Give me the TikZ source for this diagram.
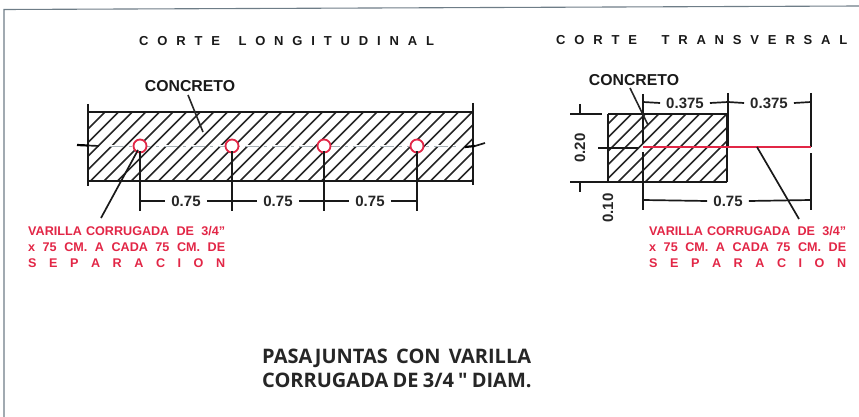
\documentclass[tikz,border=0pt]{standalone}
\usepackage{fontspec}
\setmainfont{Liberation Sans}
\newfontfamily\titlefont{Open Sans}
\definecolor{rojo}{RGB}{226,38,70}
\definecolor{marco}{RGB}{110,125,135}
\tikzset{
  obra/.style={line width=1.7pt,black!90},
  fino/.style={line width=1.6pt,black!85},
  cota/.style={font=\bfseries\fontsize{15}{15}\selectfont,inner sep=0pt,black!85},
  corte/.style={font=\bfseries\fontsize{13}{13}\selectfont\addfontfeature{LetterSpace=68},inner sep=0pt,black!90},
  etiqueta/.style={font=\bfseries\fontsize{15.8}{15.8}\selectfont,inner sep=0pt,black!90},
  nota/.style={font=\bfseries\fontsize{12.6}{16}\selectfont,text=rojo,inner sep=0pt,anchor=base west,text width=197pt},
  varilla/.style={circle,draw=rojo,line width=1.8pt,fill=white,minimum size=13pt,inner sep=0pt},
  leyenda/.style={font=\titlefont\bfseries\fontsize{20}{24}\selectfont,anchor=base west,inner sep=0pt,black!85},
}
\begin{document}
\begin{tikzpicture}[x=1pt,y=-1pt]
\useasboundingbox (0,0) rectangle (859,417);
% The frame
\draw[marco,line width=1.1pt] (4,417) -- (4,9.5) -- (859,6);
% The titles
\node[corte,anchor=west] (tlong) at (139,41) {CORTE\hspace{6pt} LONGITUDINAL};
\node[corte,anchor=west] (ttrans) at (556,40) {CORTE\hspace{12pt} TRANSVERSAL};
% Hatching of both sections
\begin{scope}
\clip (88,112) rectangle (472,181);
\foreach \coo in {0,1,...,33}
  \draw[fino] (36+13.6*\coo,181) -- ++(69,-69);
\end{scope}
\begin{scope}
\clip (608,114) rectangle (727,182);
\foreach \coo in {0,1,...,13}
  \draw[fino] (550+13.6*\coo,182) -- ++(68,-68);
\end{scope}
% Longitudinal section
\draw[obra] (88,112) -- (472,112) (88,181) -- (472,181);
\draw[obra] (88,104) -- (88,186) (473,103) -- (473,185);
\draw[line width=2.2pt] (77,145) -- (88,145.5);
\draw[obra] (88,145.5) -- (99,146);
\draw[line width=2.2pt] (465,147) -- (475,146);
\draw[obra] (475,146) -- (485,143);
\draw[white,line width=1.6pt,dash pattern=on 14pt off 5pt on 3pt off 5pt] (110,146) -- (460,146);
\draw[marco!60,line width=0.7pt,dash pattern=on 14pt off 5pt on 3pt off 5pt] (110,146) -- (460,146);
\node[etiqueta] (conc1) at (190,86) {CONCRETO};
\draw[fino] (188,95) -- (203,132);
% Bars with their dimension lines
\foreach \nom/\xx in {a/140,b/232,c/324,d/417}
{
  \node[varilla] (var\nom) at (\xx,146) {};
  \draw[obra] (\xx,151) -- (\xx,211);
}
\foreach \nom/\xx in {a/186,b/278,c/370}
{
  \node[cota] (dim\nom) at (\xx,201) {0.75};
  \draw[obra] (\xx-46,201) -- ([xshift=-6pt]dim\nom.west);
  \draw[obra] ([xshift=6pt]dim\nom.east) -- (\xx+46,201);
}
\draw[obra] (138,150) -- (101,218);
\node[nota] (n1a) at (28,235) {VARILLA CORRUGADA\hfill DE\hfill 3/4"};
\node[nota] (n1b) at (28,251) {x\hfill 75\hfill CM.\hfill A\hfill CADA\hfill 75\hfill CM.\hfill DE};
\node[nota] (n1c) at (28,267) {S\hfill E\hfill P\hfill A\hfill R\hfill A\hfill C\hfill I\hfill O\hfill N};
% Transverse section
\draw[obra] (570,114) -- (602,114) (608,114) -- (727,114);
\draw[obra] (570,182) -- (727,182) (598,148) -- (638,148);
\draw[obra] (580,104) -- (580,114) (580,182) -- (580,192);
\draw[obra] (608,114) -- (608,182) (727,114) -- (727,182);
\draw[obra] (643,94) -- (643,144) (643,152) -- (643,210);
\draw[obra] (728,93) -- (728,147) (811,93) -- (811,147) (811,153) -- (811,210);
\draw[rojo,line width=1.6pt] (643,147) -- (811,147);
\draw[fino] (630,88) -- (648,125);
\node[etiqueta] (conc2) at (634,80) {CONCRETO};
\node[cota] (dim1) at (685,103) {0.375};
\node[cota] (dim2) at (769,103) {0.375};
\node[cota] (dim3) at (728,201) {0.75};
\node[cota,rotate=90] (dim4) at (580,148) {0.20};
\node[cota,rotate=90] (dim5) at (608,208) {0.10};
\draw[obra] (643,102) -- ([xshift=-6pt]dim1.west) ([xshift=6pt]dim1.east) -- (728,102)
  (728,102) -- ([xshift=-6pt]dim2.west) ([xshift=6pt]dim2.east) -- (811,102);
\draw[obra] (643,200) -- ([xshift=-6pt]dim3.west) ([xshift=6pt]dim3.east) -- (811,200);
\draw[obra] (757,147) -- (799,219);
\node[nota] (n2a) at (649,235) {VARILLA CORRUGADA\hfill DE\hfill 3/4"};
\node[nota] (n2b) at (649,251) {x\hfill 75\hfill CM.\hfill A\hfill CADA\hfill 75\hfill CM.\hfill DE};
\node[nota] (n2c) at (649,267) {S\hfill E\hfill P\hfill A\hfill R\hfill A\hfill C\hfill I\hfill O\hfill N};
% The caption
\node[leyenda] (cap1) at (262,363) {PASAJUNTAS\hspace{3pt} CON\hspace{3pt} VARILLA};
\node[leyenda] (cap2) at (262,387) {CORRUGADA\hspace{-1pt} DE\hspace{-1pt} 3/4\hspace{-1pt} "\hspace{-1pt} DIAM.};
\end{tikzpicture}
\end{document}
